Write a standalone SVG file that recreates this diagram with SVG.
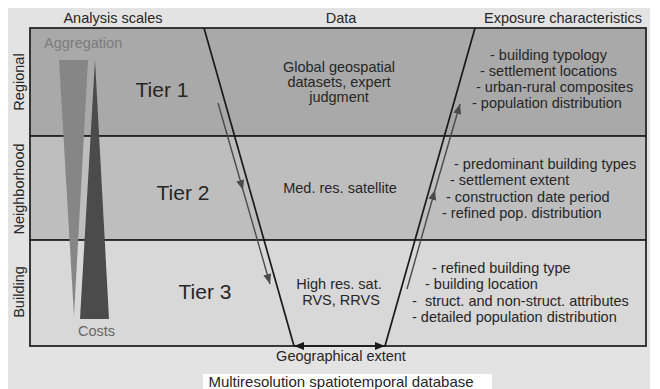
<svg xmlns="http://www.w3.org/2000/svg" width="660" height="389" viewBox="0 0 660 389">
<style>
text{font-family:"Liberation Sans",Arial,sans-serif;fill:#262626;font-size:14.5px}
.hdr{text-anchor:middle}
.mid{text-anchor:middle}
.tier{font-size:21px;text-anchor:middle}
.side{text-anchor:middle}
.row{stroke:#262626;stroke-width:1.8}
.fun{stroke:#1a1a1a;stroke-width:1.7;fill:none}
.flow{stroke:#4a4a4a;stroke-width:1.4;fill:none}
</style>
<defs>
<marker id="ah" viewBox="0 0 10 8" refX="10" refY="4" markerWidth="10" markerHeight="8" markerUnits="userSpaceOnUse" orient="auto"><path d="M0,0 L10,4 L0,8 z" fill="#4a4a4a"/></marker>
<marker id="ahk" viewBox="0 0 10 8" refX="10" refY="4" markerWidth="10" markerHeight="8" markerUnits="userSpaceOnUse" orient="auto-start-reverse"><path d="M0,0 L10,4 L0,8 z" fill="#1a1a1a"/></marker>
</defs>
<rect x="8" y="8" width="642" height="381" fill="#e3e3e3"/>
<rect x="203" y="374" width="289" height="15" fill="#ffffff"/>

<g id="tier1-row"><rect class="row" x="30" y="28" width="616" height="108" fill="#a9a9a9"/></g>
<g id="tier2-row"><rect class="row" x="30" y="136" width="616" height="104" fill="#bebebe"/></g>
<g id="tier3-row"><rect class="row" x="30" y="240" width="616" height="106" fill="#d8d8d8"/></g>

<g id="headers">
<text class="hdr" x="113" y="23">Analysis scales</text>
<text class="hdr" x="341" y="23">Data</text>
<text class="hdr" x="563" y="23">Exposure characteristics</text>
</g>

<g id="scale-labels">
<text class="side" transform="translate(24,82) rotate(-90)">Regional</text>
<text class="side" transform="translate(24,189) rotate(-90)">Neighborhood</text>
<text class="side" transform="translate(24,292) rotate(-90)">Building</text>
</g>

<g id="aggregation">
<polygon points="59,60 88,60 74,316" fill="#868686"/>
<text x="44" y="48" style="fill:#7c7c7c">Aggregation</text>
</g>
<g id="costs">
<polygon points="95,60 109,319 80,319" fill="#4b4b4b"/>
<text x="78" y="336" style="fill:#666666">Costs</text>
</g>

<g id="tiers">
<text class="tier" x="162" y="97">Tier 1</text>
<text class="tier" x="183" y="200">Tier 2</text>
<text class="tier" x="205" y="299">Tier 3</text>
</g>

<g id="data-tier1">
<text class="mid" x="339" y="72">Global geospatial</text>
<text class="mid" x="339" y="87">datasets, expert</text>
<text class="mid" x="339" y="102">judgment</text>
</g>
<g id="data-tier2"><text class="mid" x="340" y="193">Med. res. satellite</text></g>
<g id="data-tier3">
<text class="mid" x="339" y="289">High res. sat.</text>
<text class="mid" x="341" y="305">RVS, RRVS</text>
</g>

<g id="exposure-tier1">
<text x="490" y="60">- building typology</text>
<text x="480" y="76">- settlement locations</text>
<text x="476" y="92">- urban-rural composites</text>
<text x="472" y="108">- population distribution</text>
</g>
<g id="exposure-tier2">
<text x="454" y="169">- predominant building types</text>
<text x="450" y="185">- settlement extent</text>
<text x="446" y="202">- construction date period</text>
<text x="442" y="218">- refined pop. distribution</text>
</g>
<g id="exposure-tier3">
<text x="432" y="273">- refined building type</text>
<text x="425" y="289">- building location</text>
<text x="412" y="306" xml:space="preserve">-  struct. and non-struct. attributes</text>
<text x="412" y="322">- detailed population distribution</text>
</g>

<g id="connectors">
<line class="fun" x1="204" y1="28" x2="294" y2="346"/>
<line class="fun" x1="475" y1="28" x2="385" y2="346"/>
<path class="flow" d="M218,103 L243,190" marker-end="url(#ah)"/>
<path class="flow" d="M243,190 L270,284" marker-end="url(#ah)"/>
<path class="flow" d="M407,289 L435,190" marker-end="url(#ah)"/>
<path class="flow" d="M435,190 L460,104" marker-end="url(#ah)"/>
<path d="M294,346 L385,346" stroke="#1a1a1a" stroke-width="1.7" fill="none" marker-start="url(#ahk)" marker-end="url(#ahk)"/>
</g>

<g id="footer">
<text class="mid" x="341" y="361">Geographical extent</text>
<text class="mid" x="341" y="387" style="font-size:15px">Multiresolution spatiotemporal database</text>
</g>
</svg>
